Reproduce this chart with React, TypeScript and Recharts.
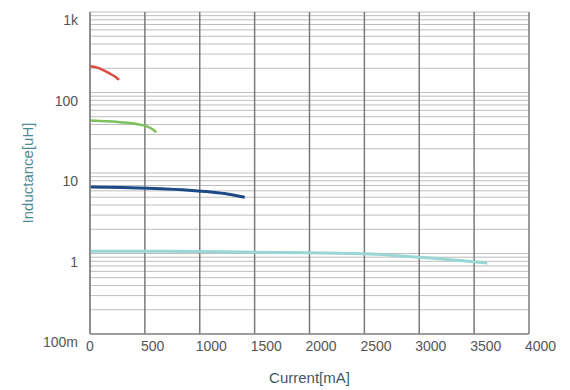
import { LineChart, Line, XAxis, YAxis, CartesianGrid } from 'recharts';

// current [mA] / inductance [uH] per part
const redCurrent = [0, 60, 120, 170, 220, 265];
const redL = [212, 205, 190, 175, 160, 144];

const greenCurrent = [0, 150, 300, 450, 520, 570, 605];
const greenL = [45, 44, 42.5, 40, 38, 35, 32];

const blueCurrent = [0, 300, 600, 900, 1100, 1250, 1410];
const blueL = [6.7, 6.6, 6.4, 6.1, 5.8, 5.5, 5.0];

const cyanCurrent = [0, 1000, 1500, 2000, 2500, 2800, 3100, 3400, 3620];
const cyanL = [1.07, 1.06, 1.04, 1.02, 0.99, 0.94, 0.88, 0.81, 0.76];

const xTicks = [0, 500, 1000, 1500, 2000, 2500, 3000, 3500, 4000];
const decadeLabels: Record<string, string> = { '0.1': '100m', '1': '1', '10': '10', '100': '100', '1000': '1k' };

const yTicks: number[] = [];
[0.1, 1, 10, 100].forEach((d) => {
  for (let m = 1; m <= 9; m++) yTicks.push(+(d * m).toPrecision(3));
});
yTicks.push(1000);

const toRows = (xs: number[], ys: number[]) => xs.map((x, i) => ({ x, y: ys[i] }));

const font = '"Liberation Sans", Arial, sans-serif';

const XTick = ({ x, y, payload }: any) => (
  <text x={x - 4} y={y} dy={9} textAnchor="start" fontSize={14} fill="#555" fontFamily={font}>
    {payload.value}
  </text>
);

const YTick = ({ x, y, payload }: any) => {
  const label = decadeLabels[String(payload.value)];
  if (!label) return <g />;
  return (
    <text x={x} y={y} dy={13} textAnchor="end" fontSize={14} fill="#555" fontFamily={font}>
      {label}
    </text>
  );
};

export default function App() {
  return (
    <div style={{ position: 'absolute', left: 0, top: 0, background: '#fff' }}>
      <LineChart width={570} height={390} margin={{ top: 12, right: 41, bottom: 0, left: 0 }}>
        <CartesianGrid stroke="#bdbdbd" strokeWidth={1} vertical={false} />
        <CartesianGrid stroke="#7a7a7a" strokeWidth={1.5} horizontal={false} />
        <XAxis
          type="number"
          dataKey="x"
          domain={[0, 4000]}
          ticks={xTicks}
          interval={0}
          height={56}
          tickLine={false}
          axisLine={{ stroke: '#8a8a8a', strokeWidth: 1.5 }}
          tickSize={6}
          tickMargin={2}
          tick={<XTick />}
          label={{
            content: ({ viewBox }: any) => (
              <text
                x={viewBox.x + viewBox.width / 2}
                y={viewBox.y + 49}
                textAnchor="middle"
                fontSize={15}
                fill="#3e5a63"
                fontFamily={font}
              >
                Current[mA]
              </text>
            ),
          }}
        />
        <YAxis
          type="number"
          scale="log"
          domain={[0.1, 1000]}
          allowDataOverflow
          ticks={yTicks}
          interval={0}
          width={90}
          tickLine={false}
          axisLine={{ stroke: '#8a8a8a', strokeWidth: 1.5 }}
          tickSize={10}
          tickMargin={2}
          tick={<YTick />}
          label={{
            content: ({ viewBox }: any) => {
              const cx = 27;
              const cy = viewBox.y + viewBox.height / 2;
              return (
                <text
                  x={cx}
                  y={cy}
                  transform={`rotate(-90 ${cx} ${cy})`}
                  textAnchor="middle"
                  dominantBaseline="central"
                  fontSize={15}
                  fill="#4f8a94"
                  fontFamily={font}
                >
                  Inductance[uH]
                </text>
              );
            },
          }}
        />
        <Line data={toRows(cyanCurrent, cyanL)} dataKey="y" type="monotone" stroke="#9ad6d6" strokeWidth={3} dot={false} isAnimationActive={false} />
        <Line data={toRows(blueCurrent, blueL)} dataKey="y" type="monotone" stroke="#1d4a86" strokeWidth={3} dot={false} isAnimationActive={false} />
        <Line data={toRows(greenCurrent, greenL)} dataKey="y" type="monotone" stroke="#7cc15a" strokeWidth={2.5} dot={false} isAnimationActive={false} />
        <Line data={toRows(redCurrent, redL)} dataKey="y" type="monotone" stroke="#e04a3c" strokeWidth={2.5} dot={false} isAnimationActive={false} />
      </LineChart>
    </div>
  );
}
